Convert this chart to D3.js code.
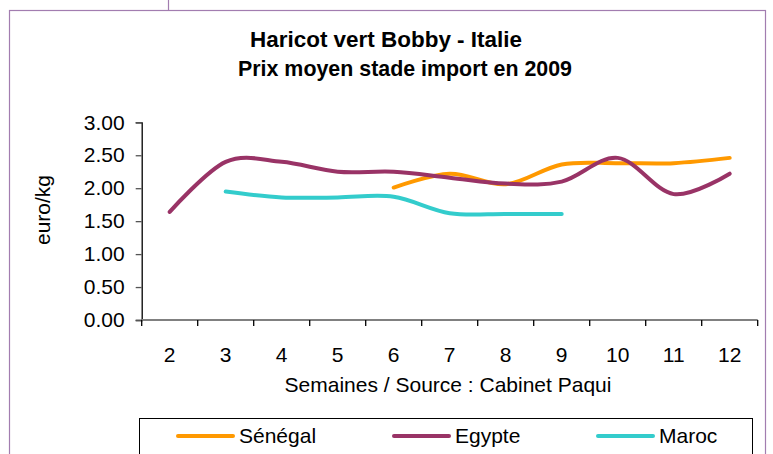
<!DOCTYPE html>
<html>
<head>
<meta charset="utf-8">
<script src="https://cdn.jsdelivr.net/npm/d3@7"></script>
<style>
  body { margin: 0; background: #fff; }
  text { font-family: "Liberation Sans", Arial, sans-serif; fill: #000; }
</style>
</head>
<body>
<div id="chart"></div>
<script>
// data
const weeks = [2, 3, 4, 5, 6, 7, 8, 9, 10, 11, 12];
const senegal = [null, null, null, null, 2.01, 2.22, 2.06, 2.36, 2.38, 2.38, 2.46];
const egypte = [1.64, 2.40, 2.40, 2.25, 2.25, 2.16, 2.07, 2.10, 2.46, 1.91, 2.22];
const maroc = [null, 1.95, 1.86, 1.86, 1.87, 1.62, 1.61, 1.61, null, null, null];
const seriesNames = ["Sénégal", "Egypte", "Maroc"];
const seriesColors = ["#ff9900", "#993366", "#33cccc"];
const yTicks = [0, 0.5, 1, 1.5, 2, 2.5, 3];

const width = 773, height = 454;
const plot = { left: 141.7, right: 757.7, top: 122.3, bottom: 320 };

const svg = d3.select("#chart")
  .append("svg")
  .attr("width", width)
  .attr("height", height);

svg.append("rect")
  .attr("width", width)
  .attr("height", height)
  .attr("fill", "#fff");

// outer frame
svg.append("rect")
  .attr("x", 9.5)
  .attr("y", 10.5)
  .attr("width", 756)
  .attr("height", 500)
  .attr("fill", "none")
  .attr("stroke", "#a27db0")
  .attr("stroke-width", 1.2);

svg.append("line")
  .attr("x1", 168.5).attr("x2", 168.5)
  .attr("y1", 0).attr("y2", 10.5)
  .attr("stroke", "#a27db0")
  .attr("stroke-width", 1.2);

// title
const title = svg.append("text")
  .attr("text-anchor", "middle")
  .style("font-weight", "bold")
  .style("font-size", "22px");
title.append("tspan").attr("x", 386).attr("y", 47)
  .attr("textLength", 272).attr("lengthAdjust", "spacingAndGlyphs")
  .text("Haricot vert Bobby - Italie");
title.append("tspan").attr("x", 405).attr("y", 76)
  .attr("textLength", 334).attr("lengthAdjust", "spacingAndGlyphs")
  .text("Prix moyen stade import en 2009");

// scales
const x = d3.scaleBand()
  .domain(weeks)
  .range([plot.left, plot.right])
  .padding(0);

const y = d3.scaleLinear()
  .domain([0, 3])
  .range([plot.bottom, plot.top]);

const cx = w => x(w) + x.bandwidth() / 2;

// y axis
const yAxis = svg.append("g")
  .attr("transform", `translate(${plot.left},0)`)
  .call(d3.axisLeft(y).tickValues(yTicks).tickFormat(d3.format(".2f")).tickSize(6).tickPadding(11));
yAxis.select(".domain").attr("stroke", "#000").attr("stroke-width", 1.3);
yAxis.selectAll(".tick line").attr("stroke", "#555").attr("stroke-width", 1.3);
yAxis.selectAll("text").style("font-size", "21px");

// x axis: labels centred in the bands, ticks on the band edges
const xAxis = svg.append("g")
  .attr("transform", `translate(0,${plot.bottom})`)
  .call(d3.axisBottom(x).tickSize(0).tickPadding(27));
xAxis.select(".domain").remove();
xAxis.selectAll("text").style("font-size", "21px");

svg.append("line")
  .attr("x1", plot.left).attr("x2", plot.right)
  .attr("y1", plot.bottom).attr("y2", plot.bottom)
  .attr("stroke", "#808080")
  .attr("stroke-width", 2);

svg.append("g")
  .selectAll("line")
  .data(weeks.map(w => x(w)).concat([plot.right]))
  .enter()
  .append("line")
  .attr("x1", d => d).attr("x2", d => d)
  .attr("y1", plot.bottom).attr("y2", plot.bottom + 6)
  .attr("stroke", "#000")
  .attr("stroke-width", 1.3);

// axis titles
svg.append("text")
  .attr("x", 448)
  .attr("y", 392)
  .attr("text-anchor", "middle")
  .style("font-size", "21px")
  .text("Semaines / Source : Cabinet Paqui");

svg.append("text")
  .attr("transform", "translate(50,210) rotate(-90)")
  .attr("text-anchor", "middle")
  .style("font-size", "21px")
  .text("euro/kg");

// lines
const line = d3.line()
  .defined(d => d.v != null)
  .x(d => cx(d.w))
  .y(d => y(d.v))
  .curve(d3.curveCardinal.tension(0));

[senegal, egypte, maroc].forEach((vals, i) => {
  svg.append("path")
    .datum(weeks.map((w, j) => ({ w: w, v: vals[j] })))
    .attr("fill", "none")
    .attr("stroke", seriesColors[i])
    .attr("stroke-width", 4)
    .attr("stroke-linecap", "round")
    .attr("stroke-linejoin", "round")
    .attr("d", line);
});

// legend
svg.append("rect")
  .attr("x", 139.5)
  .attr("y", 418.5)
  .attr("width", 613)
  .attr("height", 60)
  .attr("fill", "#fff")
  .attr("stroke", "#000")
  .attr("stroke-width", 1);

const legendX = [178, 394, 598];
const legendItem = svg.append("g")
  .selectAll("g")
  .data(seriesNames)
  .enter()
  .append("g")
  .attr("transform", (d, i) => `translate(${legendX[i]},436)`);

legendItem.append("line")
  .attr("x1", 0).attr("x2", 55)
  .attr("stroke", (d, i) => seriesColors[i])
  .attr("stroke-width", 4)
  .attr("stroke-linecap", "round");

legendItem.append("text")
  .attr("x", 61)
  .attr("y", 7)
  .style("font-size", "21px")
  .text(d => d);
</script>
</body>
</html>
